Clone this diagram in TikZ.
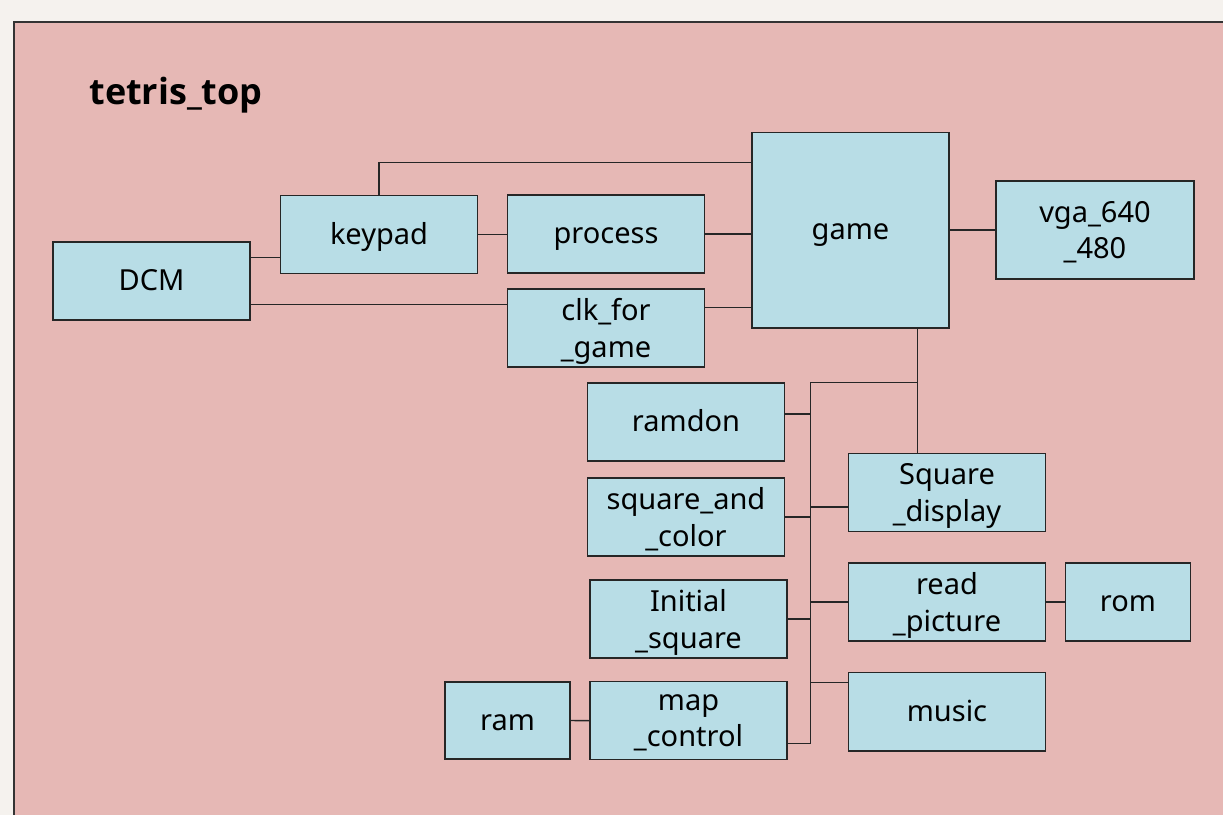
\documentclass[tikz,border=0pt]{standalone}
\usepackage{fontspec}
\setmainfont{Noto Sans}
\newfontfamily\titlefont{Open Sans}[FakeBold=0]
\definecolor{paper}{HTML}{F5F2EE}
\definecolor{rose}{HTML}{E6B8B5}
\definecolor{boxblue}{HTML}{B8DDE6}
\tikzset{blk/.style={rectangle,draw=black!85,fill=boxblue,line width=0.75pt,minimum width=98.5pt,minimum height=39pt,inner sep=0pt,align=center,font=\fontsize{14.5}{18.3}\selectfont,text height=1.06em,text depth=0.1em}}
\tikzset{two/.style={text height=,text depth=0pt}}
\tikzset{w/.style={draw=black!85,line width=0.7pt}}

\begin{document}
\begin{tikzpicture}[x=0.5pt,y=-0.5pt]
      \fill[paper] (0,0) rectangle (1223,815);
      \useasboundingbox (0,0) rectangle (1223,815);
      \filldraw[fill=rose,draw=black!80,line width=0.8pt] (14,22) rectangle (1240,840);
      \node[anchor=base west,inner sep=0pt,font=\titlefont\bfseries\fontsize{18}{22}\selectfont] (title) at (89,104) {tetris\_top};
      % modules
      \node[blk] (dcm) at (151.5,281) {DCM};
      \node[blk] (key) at (379,234.5) {keypad};
      \node[blk] (proc) at (606,234) {process};
      \node[blk,two] (clk) at (606,328) {clk\_for\\\_game};
      \node[blk,minimum height=97.75pt] (game) at (850.5,230) {game};
      \node[blk,two,minimum width=99pt,minimum height=49pt] (vga) at (1095,230) {vga\_640\\\_480};
      \node[blk] (rnd) at (686,422) {ramdon};
      \node[blk,two] (sqc) at (686,517) {square\_and\\\_color};
      \node[blk,two] (ini) at (688.5,619) {Initial\\\_square};
      \node[blk,two] (map) at (688.5,720.7) {map\\\_control};
      \node[blk,minimum width=62.5pt,minimum height=38.5pt] (ram) at (507.5,720.5) {ram};
      \node[blk,two] (sqd) at (947,492.5) {Square\\\_display};
      \node[blk,two] (rdp) at (947,602) {read\\\_picture};
      \node[blk,minimum width=62.5pt] (rom) at (1128,602) {rom};
      \node[blk,minimum height=39.25pt] (mus) at (947,711.7) {music};
      % helper points
      \coordinate (dk) at ([yshift=-8pt]dcm.north east);
      \coordinate (dc) at ([yshift=8pt]dcm.south east);
      \coordinate (cg) at ([yshift=-9.5pt]clk.north east);
      \coordinate (gs) at ([xshift=-16pt]game.south east);
      \coordinate (bus) at ([xshift=12.5pt]rnd.north east);
      \coordinate (mb) at ([yshift=8.5pt]map.south east);
      \coordinate (rb) at ([yshift=4pt]rnd.east);
      \coordinate (sb) at ([yshift=-7.25pt]sqd.west);
      \coordinate (ub) at ([yshift=-5.5pt]mus.north west);
      % wires
      \draw[w] (dk) -- (dk -| key.west);
      \draw[w] (dc) -- (dc -| clk.west);
      \draw[w] (key.north) |- ([yshift=-15.5pt]game.north west);
      \draw[w] (key.east) -- (key.east -| proc.west);
      \draw[w] (proc.east) -- (proc.east -| game.west);
      \draw[w] (cg) -- (cg -| game.west);
      \draw[w] (game.east) -- (vga.west);
      \draw[w] (gs) -- (gs |- sqd.north);
      \draw[w] (gs |- bus) -- (bus) -- (bus |- mb) -- (mb);
      \draw[w] (rb) -- (rb -| bus);
      \draw[w] (sqc.east) -- (sqc.east -| bus);
      \draw[w] (ini.east) -- (ini.east -| bus);
      \draw[w] (sb) -- (sb -| bus);
      \draw[w] (rdp.west) -- (rdp.west -| bus);
      \draw[w] (ub) -- (ub -| bus);
      \draw[w] (rdp.east) -- (rom.west);
      \draw[w] (ram.east) -- (map.west);
    \end{tikzpicture}
\end{document}
